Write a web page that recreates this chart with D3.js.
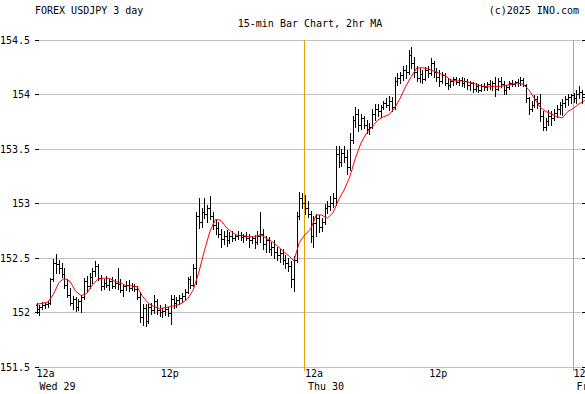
<!DOCTYPE html>
<html>
<head>
<meta charset="utf-8" />
<title>FOREX USDJPY 3 day</title>
<style>
  body { margin: 0; background: #fff; }
  svg { display: block; }
  text { font-family: "DejaVu Sans Mono", "Liberation Mono", monospace; font-size: 10px; fill: #000; }
</style>
</head>
<body>
<svg class="canvas"></svg>
<script src="https://cdn.jsdelivr.net/npm/d3@7"></script>
<script>
// 15-min bars, starting Wed 29 12a
const opens = [
  152.06,152.03,152.05,152.06,152.07,152.08,152.30,152.45,152.44,152.40,152.35,152.25,
  152.16,152.08,152.12,152.05,152.10,152.14,152.28,152.24,152.32,152.38,152.42,152.31,
  152.24,152.27,152.25,152.28,152.24,152.27,152.26,152.20,152.24,152.25,152.22,152.24,
  152.21,152.14,151.95,152.04,151.92,152.05,152.02,152.10,152.02,152.00,152.01,152.03,
  151.99,152.12,152.08,152.11,152.13,152.15,152.18,152.30,152.25,152.40,152.88,152.83,
  152.92,152.90,152.95,152.88,152.80,152.77,152.72,152.67,152.70,152.66,152.70,152.68,
  152.70,152.71,152.69,152.70,152.68,152.66,152.68,152.64,152.70,152.72,152.62,152.66,
  152.58,152.60,152.55,152.52,152.54,152.48,152.45,152.42,152.30,152.48,152.88,153.05,
  153.00,152.95,152.90,152.70,152.82,152.86,152.78,152.83,152.95,152.97,153.00,153.05,
  153.45,153.38,153.46,153.42,153.33,153.58,153.76,153.82,153.72,153.78,153.72,153.68,
  153.70,153.82,153.86,153.84,153.88,153.92,153.90,153.94,153.88,154.12,154.15,154.17,
  154.22,154.20,154.36,154.28,154.20,154.15,154.18,154.14,154.22,154.19,154.28,154.20,
  154.16,154.12,154.17,154.10,154.08,154.12,154.14,154.11,154.13,154.10,154.12,154.08,
  154.10,154.05,154.07,154.04,154.07,154.06,154.09,154.07,154.10,154.05,154.12,154.09,
  154.04,154.06,154.10,154.09,154.11,154.10,154.13,154.08,153.96,153.86,153.90,153.95,
  153.92,153.80,153.70,153.75,153.80,153.78,153.83,153.86,153.90,153.92,153.95,153.97,
  153.99,153.96,154.00,154.02,153.97
];
const highs = [
  152.08,152.06,152.09,152.08,152.10,152.31,152.49,152.53,152.48,152.45,152.40,152.30,
  152.22,152.15,152.14,152.12,152.16,152.31,152.33,152.36,152.40,152.47,152.44,152.34,
  152.30,152.33,152.30,152.32,152.30,152.40,152.30,152.26,152.28,152.29,152.27,152.26,
  152.24,152.18,152.07,152.07,152.07,152.08,152.16,152.12,152.06,152.04,152.07,152.05,
  152.16,152.16,152.14,152.16,152.17,152.21,152.32,152.33,152.44,152.92,153.05,152.95,
  153.05,152.98,153.06,152.92,152.85,152.83,152.76,152.74,152.75,152.73,152.74,152.72,
  152.74,152.73,152.72,152.73,152.72,152.70,152.71,152.74,152.92,152.76,152.70,152.69,
  152.64,152.66,152.60,152.58,152.58,152.52,152.50,152.47,152.51,152.92,153.10,153.09,
  153.07,153.02,152.93,152.88,152.90,152.89,152.86,152.99,153.02,153.06,153.09,153.52,
  153.52,153.50,153.52,153.49,153.64,153.80,153.88,153.86,153.82,153.80,153.76,153.73,
  153.86,153.91,153.91,153.90,153.94,153.96,153.98,153.97,154.16,154.19,154.20,154.26,
  154.27,154.40,154.43,154.34,154.26,154.24,154.22,154.25,154.26,154.33,154.30,154.24,
  154.22,154.20,154.19,154.15,154.14,154.16,154.16,154.15,154.16,154.15,154.14,154.12,
  154.11,154.10,154.09,154.09,154.10,154.11,154.13,154.12,154.16,154.15,154.16,154.12,
  154.08,154.12,154.13,154.12,154.14,154.16,154.15,154.09,153.97,153.94,153.99,153.98,
  154.00,153.84,153.78,153.85,153.84,153.86,153.90,153.93,153.95,153.98,154.00,154.00,
  154.01,154.04,154.07,154.04,154.01
];
const lows = [
  151.99,151.97,152.03,152.04,152.05,152.07,152.28,152.36,152.36,152.32,152.22,152.14,
  152.06,152.03,152.01,152.02,152.00,152.12,152.19,152.22,152.27,152.33,152.29,152.20,
  152.21,152.23,152.20,152.22,152.22,152.21,152.18,152.15,152.20,152.19,152.20,152.19,
  152.12,151.91,151.88,151.87,151.90,151.98,151.99,151.98,151.96,151.95,151.97,151.96,
  151.89,152.04,152.05,152.07,152.09,152.11,152.17,152.22,152.24,152.26,152.77,152.78,
  152.86,152.83,152.85,152.76,152.72,152.69,152.60,152.62,152.61,152.63,152.65,152.66,
  152.67,152.66,152.64,152.66,152.60,152.63,152.59,152.62,152.64,152.58,152.55,152.55,
  152.52,152.50,152.48,152.46,152.44,152.40,152.38,152.23,152.19,152.46,152.85,152.95,
  152.90,152.87,152.64,152.60,152.70,152.73,152.74,152.81,152.91,152.94,152.96,152.98,
  153.33,153.34,153.38,153.27,153.30,153.55,153.70,153.66,153.68,153.69,153.64,153.63,
  153.69,153.76,153.80,153.79,153.86,153.88,153.85,153.84,153.86,154.08,154.10,154.13,
  154.15,154.18,154.24,154.16,154.12,154.11,154.10,154.13,154.16,154.17,154.16,154.12,
  154.07,154.10,154.08,154.05,154.06,154.08,154.09,154.08,154.07,154.06,154.05,154.04,
  154.02,154.03,154.02,154.03,154.04,154.04,154.05,154.04,153.98,154.04,154.06,154.00,
  154.00,154.05,154.07,154.07,154.07,154.08,154.07,153.93,153.82,153.84,153.88,153.87,
  153.75,153.67,153.67,153.72,153.72,153.76,153.79,153.82,153.81,153.88,153.90,153.92,
  153.93,153.92,153.96,153.92,153.90
];
const closes = [
  152.03,152.05,152.06,152.07,152.08,152.30,152.45,152.44,152.40,152.35,152.25,152.16,
  152.08,152.12,152.05,152.10,152.14,152.28,152.24,152.32,152.38,152.42,152.31,152.24,
  152.27,152.25,152.28,152.24,152.27,152.26,152.20,152.24,152.25,152.22,152.24,152.21,
  152.14,151.95,152.04,151.92,152.05,152.02,152.10,152.02,152.00,152.01,152.03,151.99,
  152.12,152.08,152.11,152.13,152.15,152.18,152.30,152.25,152.40,152.88,152.83,152.92,
  152.90,152.95,152.88,152.80,152.77,152.72,152.67,152.70,152.66,152.70,152.68,152.70,
  152.71,152.69,152.70,152.68,152.66,152.68,152.64,152.70,152.72,152.62,152.66,152.58,
  152.60,152.55,152.52,152.54,152.48,152.45,152.42,152.30,152.48,152.88,153.05,153.00,
  152.95,152.90,152.70,152.82,152.86,152.78,152.83,152.95,152.97,153.00,153.05,153.45,
  153.38,153.46,153.42,153.33,153.58,153.76,153.82,153.72,153.78,153.72,153.68,153.70,
  153.82,153.86,153.84,153.88,153.92,153.90,153.94,153.88,154.12,154.15,154.17,154.22,
  154.20,154.36,154.28,154.20,154.15,154.18,154.14,154.22,154.19,154.28,154.20,154.16,
  154.12,154.17,154.10,154.08,154.12,154.14,154.11,154.13,154.10,154.12,154.08,154.10,
  154.05,154.07,154.04,154.07,154.06,154.09,154.07,154.10,154.05,154.12,154.09,154.04,
  154.06,154.10,154.09,154.11,154.10,154.13,154.08,153.96,153.86,153.90,153.95,153.92,
  153.80,153.70,153.75,153.80,153.78,153.83,153.86,153.90,153.92,153.95,153.97,153.99,
  153.96,154.00,154.02,153.97,153.95
];
// 2hr moving average, read every second bar (every 30 min)
const maValues = [
  152.07,152.08,152.09,152.16,152.27,152.31,152.28,152.19,152.15,152.17,152.25,152.30,
  152.31,152.31,152.28,152.27,152.24,152.24,152.23,152.14,152.08,152.05,152.03,152.04,
  152.05,152.06,152.08,152.12,152.20,152.36,152.56,152.74,152.85,152.84,152.77,152.73,
  152.70,152.70,152.69,152.69,152.71,152.68,152.65,152.61,152.56,152.52,152.47,152.64,
  152.71,152.76,152.89,152.89,152.86,152.91,153.03,153.12,153.24,153.41,153.55,153.64,
  153.70,153.76,153.79,153.81,153.87,153.96,154.07,154.16,154.24,154.24,154.23,154.21,
  154.19,154.17,154.13,154.12,154.12,154.11,154.10,154.08,154.07,154.07,154.07,154.07,
  154.08,154.09,154.10,154.09,154.04,153.96,153.88,153.84,153.82,153.79,153.78,153.84,
  153.87,153.91,153.94
];
const priceTicks = [151.5, 152, 152.5, 153, 153.5, 154, 154.5];
const dayLabels = ["Wed 29", "Thu 30", "Fri 31"];

const width = 585, height = 394;
const plotLeft = 39, plotRight = 581, plotTop = 39.5, plotBottom = 366.5;
const start = new Date(2025, 9, 29, 0, 0);

const svg = d3.select(".canvas").attr("width", width).attr("height", height);

const x = d3.scaleTime()
  .domain([start, new Date(2025, 9, 31, 0, 40)])
  .range([36.5, plotRight]);
const y = d3.scaleLinear().domain([151.5, 154.5]).range([plotBottom, plotTop]);

const barTime = i => d3.timeMinute.offset(start, 15 * i);
const px = v => Math.round(v) + 0.5;

// titles
svg.append("text").attr("x", 35).attr("y", 14).text("FOREX USDJPY 3 day");
svg.append("text").attr("x", 579).attr("y", 14).attr("text-anchor", "end").text("(c)2025 INO.com");
svg.append("text").attr("x", 310).attr("y", 27).attr("text-anchor", "middle").text("15-min Bar Chart, 2hr MA");

//----------------grid----------------
svg.append("g").attr("shape-rendering", "crispEdges")
  .selectAll("line").data(priceTicks).join("line")
  .attr("x1", plotLeft).attr("x2", plotRight)
  .attr("y1", d => px(y(d))).attr("y2", d => px(y(d)))
  .attr("stroke", "#c0c0c0");

// left axis
const yAxis = svg.append("g").attr("transform", `translate(${plotLeft},0)`)
  .call(d3.axisLeft(y).tickValues(priceTicks).tickSize(4).tickPadding(5)
    .tickFormat(d => d3.format("")(d)));
yAxis.select(".domain").remove();
yAxis.selectAll(".tick").attr("transform", d => `translate(0,${px(y(d))})`);
yAxis.selectAll(".tick line").attr("stroke", "#000");
yAxis.selectAll(".tick text").attr("dy", "0.35em");
yAxis.attr("font-family", null).attr("font-size", null);

// right ticks
svg.append("g").selectAll("line").data(priceTicks).join("line")
  .attr("x1", 582).attr("x2", 585)
  .attr("y1", d => px(y(d))).attr("y2", d => px(y(d)))
  .attr("stroke", "#000");

//----------------time labels----------------
const halfDays = d3.range(0, 5).map(k => d3.timeHour.offset(start, 12 * k));

svg.append("g").attr("shape-rendering", "crispEdges")
  .selectAll("line")
  .data(halfDays.filter((d, k) => k % 2 === 0 && k > 0)).join("line")
  .attr("x1", d => px(x(d)) - 1).attr("x2", d => px(x(d)) - 1)
  .attr("y1", plotTop).attr("y2", 371)
  .attr("stroke", "#eaa000");

svg.append("g").selectAll("text").data(halfDays).join("text")
  .attr("x", (d, k) => k % 2 === 0 ? x(d) : x(d) - 1)
  .attr("y", 377)
  .attr("text-anchor", (d, k) => k % 2 === 0 ? "start" : "middle")
  .text((d, k) => k % 2 === 0 ? "12a" : "12p");

svg.append("g").selectAll("text").data(dayLabels).join("text")
  .attr("x", (d, k) => x(halfDays[k * 2]) + 3)
  .attr("y", 390)
  .text(d => d);

//----------------bars----------------
const bars = svg.append("g").attr("stroke", "#000").attr("shape-rendering", "crispEdges");
const barIdx = d3.range(closes.length);

bars.selectAll(".hl").data(barIdx).join("line")
  .attr("class", "hl")
  .attr("x1", i => px(x(barTime(i)))).attr("x2", i => px(x(barTime(i))))
  .attr("y1", i => Math.round(y(highs[i]))).attr("y2", i => Math.round(y(lows[i])) + 1);

bars.selectAll(".op").data(barIdx).join("line")
  .attr("class", "op")
  .attr("x1", i => Math.round(x(barTime(i))) - 1).attr("x2", i => Math.round(x(barTime(i))))
  .attr("y1", i => px(y(opens[i]))).attr("y2", i => px(y(opens[i])));

bars.selectAll(".cl").data(barIdx).join("line")
  .attr("class", "cl")
  .attr("x1", i => Math.round(x(barTime(i))) + 1).attr("x2", i => Math.round(x(barTime(i))) + 2)
  .attr("y1", i => px(y(closes[i]))).attr("y2", i => px(y(closes[i])));

//----------------moving average----------------
const maLine = d3.line()
  .x((d, k) => x(barTime(k * 2)))
  .y(d => y(d));

svg.append("path")
  .datum(maValues)
  .attr("d", maLine)
  .attr("fill", "none")
  .attr("stroke", "#ff0000")
  .attr("stroke-width", 1);
</script>
</body>
</html>
